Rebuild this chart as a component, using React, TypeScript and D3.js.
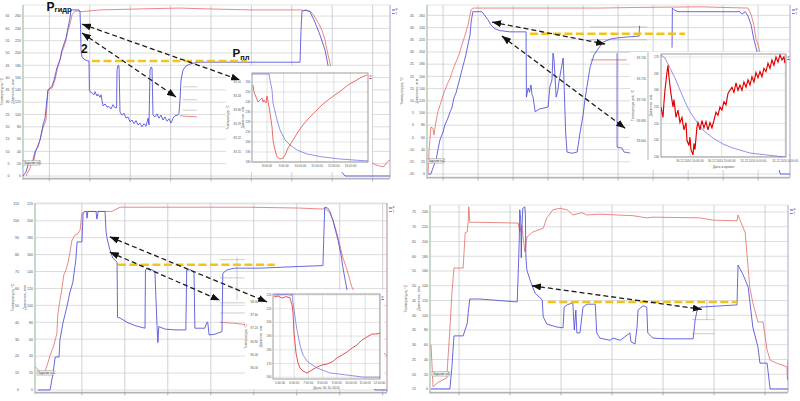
import React, { useEffect } from 'react';
import * as d3 from 'd3';

type Pt = [number, number];

// ================= PANEL 1 (top-left) : time [h], pressure [atm] =================
const p1Pressure: Pt[] = [[0,0],[0.75,6.5],[1.25,17.9],[2,21],[2.5,26],[3,39],[3.5,45.5],[4.25,58.5],[5,83],[5.5,94],[6.25,140],[7.25,146],[7.75,156],[8.5,176],[9.25,189],[9.75,205],[10.25,215],[10.75,224],[11.25,241],[11.75,257],[12,270],[14,270],[14.25,267],[14.4,238],[14.5,205],[14.75,193],[15.5,189],[16.25,187],[16.5,187],[16.6,140],[16.75,137],[17.25,135],[17.75,132],[18,137],[18.5,130],[18.75,133],[19.25,128],[19.5,132],[20,114],[20.5,117],[21,112],[21.5,113],[22,109],[22.5,116],[23,111],[23.4,111],[23.5,172],[23.75,180],[24,179],[24.25,104],[24.75,99],[25.25,102],[25.75,94],[26.25,96],[26.75,88],[27.25,91],[27.75,85],[28.25,90],[28.75,83],[29.25,86],[29.75,80],[30.25,85],[30.75,81],[31.25,94],[31.5,83],[31.75,172],[32,177],[32.25,176],[32.5,99],[33,96],[33.5,101],[34,94],[34.5,99],[35,91],[35.5,96],[36,89],[36.5,93],[37,86],[37.5,94],[38,98],[38.75,99],[39,102],[39.25,124],[39.5,156],[40,172],[40.75,179],[41.75,182],[43,184],[44.25,185],[56.75,185],[69.25,185],[69.5,237],[69.75,268],[70.75,270],[71.75,267],[73,250],[74.25,229],[75.5,205],[76.25,180],[77.25,124],[78,58.5],[79.25,10],[80.5,0],[91.75,0]];
const p1Temperature: Pt[] = [[0.75,0],[1.25,6.5],[1.75,13],[2.25,23],[2.75,26],[3.25,42],[3.75,47],[4.25,58.5],[5,78],[5.75,91],[6.25,140],[7.25,143],[8,156],[8.5,172],[9.25,189],[9.75,202],[10.25,210],[10.75,221],[11.25,237],[11.5,241],[12,254],[12.25,262],[13,268],[14,268],[14.5,267],[19.25,270],[31.75,272],[39.25,273],[44.25,272],[56.75,270],[69.25,270],[71.75,268],[72.5,263],[73.75,250],[74.75,237],[75.5,221],[76.25,197],[77,176],[78,150],[80,100],[82,60],[84.25,30],[86.75,23],[88.25,18],[89.25,16],[90.25,15],[91,23],[91.75,26]];
const p1TempSegments: Pt[][] = [[[39.25,98],[41,97],[43.5,96]]];
const p1GrayTraces: Pt[][] = [[[40,145],[43.5,145]],[[40,124],[43.5,124]],[[40,107],[43.5,107]]];
const p1BlueTraces: Pt[][] = [];
const p1Yellow: Pt[] = [[17.25,187],[56,187]];
const p1Arrows: Pt[][] = [[[14.75,247],[54.25,156]],[[14.75,232.5],[38.25,128.5]]];
const p1PressureTicks = d3.range(0, 261, 20);
const p1TempTicks = d3.range(0, 66, 5);
const p1TimeGrid = d3.range(6.6, 91, 10.1);

// ================= PANEL 2 (top-right) =================
const p2Pressure: Pt[] = [[0.3,0],[1.1,0],[1.7,10],[2.6,23],[3.1,39],[3.7,56],[4.6,69],[5.1,80],[6,92],[6.6,102],[7.1,108],[7.7,125],[8.3,133],[8.9,146],[9.4,157],[10,171],[10.6,184],[11.1,195],[11.7,212],[12.3,228],[12.6,249],[13.1,266],[15.7,266],[16.6,259],[17.4,253],[18.3,244],[19.4,238],[20.9,235],[23.7,233],[28,233],[28.3,233],[28.4,126],[28.9,141],[29.3,134],[29.7,146],[30,130],[30.3,126],[30.9,102],[32.3,107],[33.4,108],[34.6,110],[35.1,143],[35.7,154],[36,198],[36.3,187],[36.9,126],[37.4,138],[37.7,151],[38.3,171],[38.9,190],[39.1,159],[39.6,69],[40,36],[41.4,34],[42.9,36],[43.7,67],[44.6,97],[45.1,121],[46,154],[46.6,175],[47.7,195],[48.6,203],[50.3,216],[52.3,221],[54.3,223],[58,225],[60.6,226],[60.7,243],[61,NaN],[70,207],[70.1,272],[70.6,269],[71.7,266],[78,266],[89.4,266],[90,262],[90.9,266],[91.7,259],[92.6,244],[93.4,220],[94.3,200],[95.1,187],[97,120],[99,40],[100.9,0],[103.7,0]];
const p2Temperature: Pt[] = [[0.3,2],[0.6,39],[1.1,77],[1.7,75],[2,64],[2.3,77],[3.1,102],[4,118],[4.9,134],[5.7,146],[6.6,157],[7.4,171],[8.3,184],[9.1,195],[10,212],[10.9,228],[11.7,244],[12.6,269],[13.1,272],[20.9,272],[35,272],[49.4,272],[60,273],[78,274],[91.7,272],[92.6,261],[93.4,244],[94,220],[94.6,212],[95.1,200],[97,150],[99,90],[101,50],[103.7,30]];
const p2TempSegments: Pt[][] = [[[46.6,187],[57.1,187]]];
const p2GrayTraces: Pt[][] = [[[46.6,241],[62.9,241]],[[46.6,220],[62.9,220]],[[46.6,200],[62.9,200]]];
const p2BlueTraces: Pt[][] = [[[54.3,198],[54.3,44],[55.7,42.6],[56.3,36],[58,34.4]]];
const p2Yellow: Pt[] = [[29.4,230],[73.7,230]];
const p2Arrows: Pt[][] = [[[18.6,249],[50.9,213]],[[21.4,226],[56.6,75]]];
const p2PressureTicks = d3.range(0, 261, 20);
const p2TempTicks = d3.range(-20, 50, 5);
const p2TimeGrid = d3.range(4.6, 103, 10);

// ================= PANEL 3 (bottom-left) =================
const p3Pressure: Pt[] = [[0.7,0],[3.5,0],[4.2,20],[4.7,39],[5.6,39],[5.8,59],[6.5,79],[7.4,98],[8.1,115],[8.8,127],[9.5,154],[9.8,175],[10.9,175],[11.2,209],[11.6,211],[12,211],[12.1,203],[12.3,211],[14.2,211],[14.4,202],[14.7,211],[16.3,211],[16.5,189],[16.7,181],[17.4,166],[18.1,156],[19.1,151],[19.2,86],[19.8,85],[21.4,80],[23.3,76],[25.6,73],[25.7,142],[26.3,144],[27.2,142],[27.9,140],[28.4,75],[28.6,56],[28.8,75],[30.2,72],[32.6,71],[35.1,71],[35.3,142],[36.3,142],[37,138],[37.2,73],[39.5,73],[40,80],[40.2,80],[40.5,65],[41.9,66],[43.5,69],[43.7,138],[44.7,142],[46.5,144],[52.3,144],[61.6,146],[67,147],[67.4,216],[68.1,215],[68.6,211],[69.3,201],[70,187],[70.5,177],[71.2,160],[71.6,146],[72.6,118],[73.3,107],[74.4,83],[75.6,59],[76.7,35],[77.9,12],[79.1,0],[81.9,0]];
const p3Temperature: Pt[] = [[0.2,27],[1.2,21],[2.1,18],[2.6,26],[3,32],[3.5,41],[4.2,50],[4.7,59],[5.1,67],[5.3,89],[5.8,106],[6.3,121],[6.7,136],[7.2,142],[7.7,151],[8.1,162],[8.6,177],[9.3,183],[10,185],[10.5,189],[10.9,209],[11.6,211],[17.9,211],[18.6,213],[19.8,216],[26.7,216],[38.4,216],[50,216],[61.6,215],[66.3,214],[67.7,214],[68.6,209],[69.3,201],[70.2,186],[70.9,172],[71.6,157],[72.6,142],[73.7,122],[74.7,112],[76,95],[78,70],[80,50],[81.9,40]];
const p3TempSegments: Pt[][] = [[[43,80],[46,79],[49.5,77]]];
const p3GrayTraces: Pt[][] = [[[43,154],[48.8,154]],[[43,132.5],[48.8,132.5]],[[43,103],[48.8,103]],[[43,91],[48.8,91]],[[47,157.5],[47,106.5]]];
const p3BlueTraces: Pt[][] = [];
const p3Yellow: Pt[] = [[19.3,148],[55.8,148]];
const p3Arrows: Pt[][] = [[[17.4,181],[54,104]],[[17.4,163],[43,106]]];
const p3PressureTicks = d3.range(0, 221, 20);
const p3TempTicks = d3.range(0, 111, 10);
const p3TimeGrid = d3.range(10.9, 81, 10);

// ================= PANEL 4 (bottom-right) =================
const p4Pressure: Pt[] = [[0.2,0],[3.9,0],[4.3,30],[4.7,72],[6.5,72],[7.3,89],[7.5,104],[7.8,122],[9.8,122],[17.1,118],[17.3,157],[17.5,202],[17.6,243],[17.8,229],[17.9,178],[18,216],[18.2,245],[18.6,247],[18.7,236],[18.8,179],[19,161],[19.6,148],[20.6,130],[22,121],[22.2,98],[22.9,88],[24.9,84],[26.1,83],[26.3,111],[26.9,114],[28,117],[28.3,80],[28.6,107],[28.8,76],[29.4,76],[30,111],[30.8,115],[32.4,115],[32.7,76],[33.3,69],[35.3,66],[35.9,69],[37.3,66],[39.2,76],[39.4,64],[40.2,61],[40.6,84],[40.8,107],[41.8,113],[42.5,111],[42.7,76],[43.7,69],[46.5,68],[51.6,68],[52,94],[52.4,107],[52.9,111],[60.2,114],[60.4,168],[61.4,155],[62.4,138],[63.3,84],[64.3,57],[64.7,35],[66.1,35],[66.7,0],[70.2,0]];
const p4Temperature: Pt[] = [[0.2,60],[0.6,3],[1.4,8],[2.4,12],[3.3,15],[3.5,39],[3.9,80],[4.3,130],[4.7,164],[6.5,164],[6.9,212],[7.3,213],[7.5,229],[7.6,247],[7.8,226],[9.8,226],[17.3,225],[17.6,213],[18,222],[18.6,186],[19,206],[20.2,213],[22.2,218],[22.9,232],[24.1,243],[25.5,245],[26.9,243],[28,236],[29.8,239],[30.8,236],[33.3,237],[39.8,235],[42.5,232],[43.7,233],[52.9,232],[55.5,229],[60.2,228],[60.4,236],[60.8,229],[61.8,212],[62.7,138],[63.3,117],[64.3,91],[65.3,91],[66.1,53],[66.7,39],[68,35],[70,30],[70.1,12],[70.2,39]];
const p4TempSegments: Pt[][] = [];
const p4GrayTraces: Pt[][] = [[[51.4,94],[55.9,94]],[[51.4,75],[55.9,75]],[[54.3,121],[54.3,94]]];
const p4BlueTraces: Pt[][] = [];
const p4Yellow: Pt[] = [[23.1,118],[60.2,118]];
const p4Arrows: Pt[][] = [[[20,140],[53.3,108]]];
const p4PressureTicks = d3.range(0, 241, 20);
const p4TempTicks = d3.range(15, 80, 5);
const p4TimeGrid = d3.range(5.7, 70, 10);

// ================= INSET 1 (hours, atm / °C) =================
const i1Pressure: Pt[] = [[7.1,268],[8.12,268],[8.18,262],[8.3,252],[8.36,239],[8.6,222],[8.78,212],[9.08,202],[9.38,197],[9.8,192],[10.39,188],[11.35,185],[12.37,183],[14.05,181]];
const i1Temperature: Pt[] = [[7.16,83.485],[7.22,83.45],[7.34,83.425],[7.46,83.40],[7.58,83.41],[7.7,83.42],[7.76,83.40],[7.82,83.41],[7.94,83.395],[8.0,83.43],[8.12,83.375],[8.18,83.345],[8.3,83.275],[8.36,83.21],[8.48,83.16],[8.6,83.125],[8.78,83.115],[8.96,83.12],[9.08,83.135],[9.26,83.17],[9.56,83.21],[9.85,83.25],[10.15,83.285],[10.57,83.325],[10.87,83.35],[11.29,83.385],[11.65,83.41],[12.07,83.435],[12.49,83.46],[12.85,83.485],[13.27,83.505],[13.69,83.525],[13.99,83.535]];
const i1PressureTicks = d3.range(180, 261, 10);
const i1TempTicks = [83.15, 83.22, 83.29, 83.36, 83.43, 83.5];
const i1TimeTicks = [8, 9, 10, 11, 12, 13];
const i1TimeLabels = ['8:00:00', '9:00:00', '10:00:00', '11:00:00', '12:00:00', '13:00:00'];

// ================= INSET 2 =================
const i2Pressure: Pt[] = [[12.35,270.6],[12.85,269.7],[13.48,266.7],[14.11,263.7],[14.74,260.1],[15.37,256.5],[16,253.5],[16.88,250.4],[17.64,248],[18.9,245.6],[20.16,243.8],[21.42,242.6],[23.56,241.1],[25.7,240.5],[27.97,239.9]];
const i2Temperature: Pt[] = [[12.35,83.693],[12.6,83.683],[12.72,83.697],[12.85,83.709],[13.1,83.726],[13.23,83.733],[13.35,83.722],[13.6,83.706],[13.86,83.693],[13.98,83.7],[14.24,83.683],[14.49,83.69],[14.74,83.678],[14.99,83.683],[15.24,83.671],[15.5,83.678],[15.62,83.661],[15.87,83.656],[16,83.664],[16.13,83.652],[16.38,83.647],[16.5,83.658],[16.63,83.652],[16.88,83.674],[17.01,83.678],[17.26,83.671],[17.51,83.68],[17.76,83.673],[18.02,83.679],[18.27,83.671],[18.52,83.678],[18.77,83.673],[19.02,83.68],[19.28,83.688],[19.53,83.685],[19.78,83.693],[20.03,83.69],[20.28,83.698],[20.54,83.695],[20.79,83.706],[21.04,83.709],[21.29,83.712],[21.54,83.707],[21.8,83.716],[22.05,83.709],[22.3,83.714],[22.55,83.709],[22.8,83.717],[23.06,83.712],[23.31,83.719],[23.56,83.714],[23.81,83.722],[24.06,83.717],[24.32,83.726],[24.57,83.721],[24.82,83.727],[25.07,83.722],[25.32,83.73],[25.58,83.727],[25.83,83.735],[26.08,83.73],[26.33,83.738],[26.58,83.733],[26.84,83.741],[27.09,83.736],[27.34,83.743],[27.59,83.738],[27.84,83.741],[27.97,83.735]];
const i2PressureTicks = d3.range(240, 271, 5);
const i2TempTicks = [83.66, 83.68, 83.7, 83.72, 83.74];
const i2TimeTicks = [16, 20, 24, 28];
const i2TimeLabels = ['30.12.2010 16:00:00', '30.12.2010 20:00:00', '31.12.2010 0:00:00', '31.12.2010 4:00:00'];

// ================= INSET 3 =================
const i3Pressure: Pt[] = [[4.58,220],[5.5,220.3],[5.8,219.8],[5.85,221.5],[5.88,218],[5.92,214.2],[6.06,203.9],[6.2,194.5],[6.41,183.5],[6.62,176.2],[6.97,171.1],[7.61,166.7],[8.52,163.1],[9.72,161.6],[10.85,160.1],[12.04,160.1]];
const i3Temperature: Pt[] = [[4.58,88.14],[4.86,88.17],[5.14,88.11],[5.42,88.15],[5.7,88.12],[5.85,87.9],[5.92,87.66],[5.99,87.06],[6.13,86.46],[6.27,86.16],[6.41,86.01],[6.62,85.92],[6.9,85.86],[7.25,85.95],[7.61,86.04],[7.96,86.1],[8.31,86.13],[8.66,86.19],[9.01,86.31],[9.37,86.4],[9.72,86.49],[10.07,86.61],[10.42,86.7],[10.77,86.85],[11.13,86.94],[11.48,87.03],[11.83,87.03],[12.04,87.06]];
const i3PressureTicks = d3.range(160, 221, 10);
const i3TempTicks = [86.0, 86.4, 86.8, 87.2, 87.6, 88.0];
const i3TimeTicks = [5, 6, 7, 8, 9, 10, 11, 12];
const i3TimeLabels = ['5:00:00', '6:00:00', '7:00:00', '8:00:00', '9:00:00', '10:00:00', '11:00:00', '12:00:00'];

const FONT = "'Liberation Sans', Arial, sans-serif";
const BLUE = '#4b4bdc';
const RED = '#e46a66';

interface MainCfg {
  id: string;
  x0: number; x1: number; y0: number; y1: number;
  xDomain: [number, number]; yDomain: [number, number];
  timeGrid: number[]; pressureTicks: number[]; tempTicks: number[];
  pressure: Pt[]; temperature: Pt[]; tempSegments: Pt[][]; grayTraces: Pt[][]; blueTraces: Pt[][];
  yellow: Pt[]; arrows: Pt[][];
  title1X: number; outerX: number; title2X: number; innerX: number;
  task: { x: number; y: number };
  rightColor: string;
}

interface InsetCfg {
  id: string;
  box: { x: number; y: number; w: number; h: number };
  x0: number; x1: number; y0: number; y1: number;
  xDomain: [number, number]; pDomain: [number, number]; tDomain: [number, number];
  timeTicks: number[]; timeLabels: string[]; pressureTicks: number[]; tempTicks: number[]; tempDigits: number;
  pressure: Pt[]; temperature: Pt[];
  title1X: number; outerX: number; title2X: number; innerX: number;
  tempAxisX?: number;
  xTitle?: string; xTitleY?: number;
  labelY: number;
  redColor: string; redWidth: number;
  tempTitle: string;
}

function MainChart({ c, children, labels }: { c: MainCfg; children?: React.ReactNode; labels?: React.ReactNode }) {
  const x = d3.scaleLinear().domain(c.xDomain).range([c.x0, c.x1]);
  const y = d3.scaleLinear().domain(c.yDomain).range([c.y1, c.y0]);
  const line = d3.line<Pt>().defined(d => Number.isFinite(d[1])).x(d => x(d[0])).y(d => y(d[1]));
  const clipId = `clip-${c.id}`;
  const midY = (c.y0 + c.y1) / 2;
  return (
    <g>
      <defs>
        <clipPath id={clipId}><rect x={c.x0} y={c.y0} width={c.x1 - c.x0} height={c.y1 - c.y0} /></clipPath>
      </defs>
      <rect x={c.x0} y={c.y0} width={c.x1 - c.x0} height={c.y1 - c.y0} fill="#fff" stroke="#d6d6d6" strokeWidth={0.7} />
      {c.pressureTicks.map(v => (
        <line key={'h' + v} x1={c.x0} x2={c.x1} y1={y(v)} y2={y(v)} stroke="#d8d8d8" strokeWidth={0.9} />
      ))}
      {c.timeGrid.map((t, i) => (
        <line key={'v' + i} x1={x(t)} x2={x(t)} y1={c.y0} y2={c.y1} stroke="#c8ccd6" strokeWidth={0.9} />
      ))}
      <line x1={c.x0} x2={c.x0} y1={c.y0} y2={c.y1 + 2} stroke="#a6c3a6" strokeWidth={1.1} />
      <line x1={c.x1} x2={c.x1} y1={c.y0} y2={c.y1} stroke={c.rightColor} strokeWidth={0.9} />
      <line x1={c.x0} x2={c.x1} y1={c.y1 + 0.8} y2={c.y1 + 0.8} stroke="#b4b4b4" strokeWidth={1.6} />
      {c.timeGrid.map((t, i) => (
        <line key={'tk' + i} x1={x(t)} x2={x(t)} y1={c.y1} y2={c.y1 + 3.5} stroke="#999" strokeWidth={0.7} />
      ))}
      {c.pressureTicks.map(v => (
        <text key={'pl' + v} x={c.innerX} y={y(v) + 1.3} fontSize={3.6} textAnchor="end" fill="#555">{v}</text>
      ))}
      {c.tempTicks.map((tv, i) => (
        <text key={'tl' + i} x={c.outerX} y={y(c.pressureTicks[i]) + 1.3} fontSize={3.6} textAnchor="end" fill="#555">{tv}</text>
      ))}
      <text transform={`translate(${c.title1X},${midY}) rotate(-90)`} fontSize={3.6} textAnchor="middle" fill="#555">Температура, °С</text>
      <text transform={`translate(${c.title2X},${midY}) rotate(-90)`} fontSize={3.6} textAnchor="middle" fill="#555">Давление, атм</text>
      <g clipPath={`url(#${clipId})`}>
        {c.grayTraces.map((tr, i) => <path key={'g' + i} d={line(tr) || ''} fill="none" stroke="#a9a9a9" strokeWidth={0.6} />)}
        <path d={line(c.temperature) || ''} fill="none" stroke={RED} strokeWidth={0.8} />
        {c.tempSegments.map((tr, i) => <path key={'r' + i} d={line(tr) || ''} fill="none" stroke={RED} strokeWidth={0.8} />)}
        {c.blueTraces.map((tr, i) => <path key={'b' + i} d={line(tr) || ''} fill="none" stroke={BLUE} strokeWidth={0.8} />)}
        <path d={line(c.pressure) || ''} fill="none" stroke={BLUE} strokeWidth={0.85} />
      </g>
      {/* legend */}
      <line x1={c.x1 + 2} x2={c.x1 + 5} y1={c.y0 + 5} y2={c.y0 + 5} stroke={BLUE} strokeWidth={1} />
      <text x={c.x1 + 5.5} y={c.y0 + 6.2} fontSize={3} fill="#555">P</text>
      <line x1={c.x1 + 2} x2={c.x1 + 5} y1={c.y0 + 8.5} y2={c.y0 + 8.5} stroke={RED} strokeWidth={1} />
      <text x={c.x1 + 5.5} y={c.y0 + 9.7} fontSize={3} fill="#555">T</text>
      {/* task label */}
      <rect x={c.task.x} y={c.task.y} width={17} height={4.6} fill="#ececec" stroke="#8c8c8c" strokeWidth={0.4} />
      <text x={c.task.x + 1} y={c.task.y + 3.4} fontSize={2.9} fill="#444">Задание №С</text>
      {children}
      <path d={line(c.yellow) || ''} fill="none" stroke="#f2c318" strokeWidth={2.5} strokeDasharray="8,3.5" />
      {c.arrows.map((a, i) => (
        <path key={'a' + i} d={line(a) || ''} fill="none" stroke="#1c1c1c" strokeWidth={1.3} strokeDasharray="5,3"
          markerStart="url(#ah)" markerEnd="url(#ah)" />
      ))}
      {labels}
    </g>
  );
}

function Inset({ c }: { c: InsetCfg }) {
  const x = d3.scaleLinear().domain(c.xDomain).range([c.x0, c.x1]);
  const yp = d3.scaleLinear().domain(c.pDomain).range([c.y1, c.y0]);
  const yt = d3.scaleLinear().domain(c.tDomain).range([c.y1, c.y0]);
  const lineP = d3.line<Pt>().x(d => x(d[0])).y(d => yp(d[1]));
  const lineT = d3.line<Pt>().x(d => x(d[0])).y(d => yt(d[1]));
  const clipId = `iclip-${c.id}`;
  const midY = (c.y0 + c.y1) / 2;
  return (
    <g>
      <defs>
        <clipPath id={clipId}><rect x={c.x0} y={c.y0} width={c.x1 - c.x0} height={c.y1 - c.y0} /></clipPath>
      </defs>
      <rect x={c.box.x} y={c.box.y} width={c.box.w} height={c.box.h} fill="#fff" />
      <rect x={c.x0} y={c.y0} width={c.x1 - c.x0} height={c.y1 - c.y0} fill="#fff" />
      {c.pressureTicks.map(v => (
        <line key={'h' + v} x1={c.x0} x2={c.x1} y1={yp(v)} y2={yp(v)} stroke="#d9d9d9" strokeWidth={0.7} />
      ))}
      {c.timeTicks.map(t => (
        <line key={'v' + t} x1={x(t)} x2={x(t)} y1={c.y0} y2={c.y1} stroke="#d2d2d2" strokeWidth={0.7} />
      ))}
      <rect x={c.x0} y={c.y0} width={c.x1 - c.x0} height={c.y1 - c.y0} fill="none" stroke="#9b9b9b" strokeWidth={1} />
      {c.tempAxisX !== undefined && (
        <line x1={c.tempAxisX} x2={c.tempAxisX} y1={c.y0 - 2} y2={c.y1 + 3} stroke="#a0a0a0" strokeWidth={0.8} />
      )}
      <g clipPath={`url(#${clipId})`}>
        <path d={lineP(c.pressure) || ''} fill="none" stroke="#6464e2" strokeWidth={0.7} />
        <path d={lineT(c.temperature) || ''} fill="none" stroke={c.redColor} strokeWidth={c.redWidth} />
      </g>
      {c.pressureTicks.map(v => (
        <text key={'pl' + v} x={c.innerX} y={yp(v) + 1.1} fontSize={3} textAnchor="end" fill="#555">{v}</text>
      ))}
      {c.tempTicks.map(v => (
        <text key={'tl' + v} x={c.outerX} y={yt(v) + 1.1} fontSize={3} textAnchor="end" fill="#555">{v.toFixed(c.tempDigits)}</text>
      ))}
      {c.timeTicks.map((t, i) => (
        <text key={'xl' + t} x={x(t)} y={c.labelY} fontSize={3} textAnchor="middle" fill="#555">{c.timeLabels[i]}</text>
      ))}
      {c.xTitle && (
        <text x={(c.x0 + c.x1) / 2} y={c.xTitleY} fontSize={3.4} textAnchor="middle" fill="#555">{c.xTitle}</text>
      )}
      <text transform={`translate(${c.title1X},${midY}) rotate(-90)`} fontSize={3.2} textAnchor="middle" fill="#555">{c.tempTitle}</text>
      <text transform={`translate(${c.title2X},${midY}) rotate(-90)`} fontSize={3.2} textAnchor="middle" fill="#555">Давление, атм</text>
      <line x1={c.x1 + 1.5} x2={c.x1 + 3.5} y1={c.y0 + 3} y2={c.y0 + 3} stroke={BLUE} strokeWidth={0.9} />
      <line x1={c.x1 + 1.5} x2={c.x1 + 3.5} y1={c.y0 + 5.5} y2={c.y0 + 5.5} stroke="#e00000" strokeWidth={0.9} />
    </g>
  );
}

const panel1: MainCfg = {
  id: 'p1', x0: 23, x1: 390, y0: 5, y1: 178,
  xDomain: [0, 91.75], yDomain: [-3.25, 278],
  timeGrid: p1TimeGrid, pressureTicks: p1PressureTicks, tempTicks: p1TempTicks,
  pressure: p1Pressure, temperature: p1Temperature, tempSegments: p1TempSegments, grayTraces: p1GrayTraces, blueTraces: p1BlueTraces,
  yellow: p1Yellow, arrows: p1Arrows,
  title1X: 3, outerX: 9.5, title2X: 13.5, innerX: 21,
  task: { x: 23, y: 160.5 }, rightColor: '#b9a9dc',
};
const panel2: MainCfg = {
  id: 'p2', x0: 427, x1: 790, y0: 5, y1: 177,
  xDomain: [0, 103.7], yDomain: [-4.9, 277],
  timeGrid: p2TimeGrid, pressureTicks: p2PressureTicks, tempTicks: p2TempTicks,
  pressure: p2Pressure, temperature: p2Temperature, tempSegments: p2TempSegments, grayTraces: p2GrayTraces, blueTraces: p2BlueTraces,
  yellow: p2Yellow, arrows: p2Arrows,
  title1X: 403, outerX: 414, title2X: 418, innerX: 425,
  task: { x: 427, y: 158.5 }, rightColor: '#b9a9dc',
};
const panel3: MainCfg = {
  id: 'p3', x0: 35, x1: 387, y0: 203, y1: 392,
  xDomain: [0, 81.9], yDomain: [-2.4, 221],
  timeGrid: p3TimeGrid, pressureTicks: p3PressureTicks, tempTicks: p3TempTicks,
  pressure: p3Pressure, temperature: p3Temperature, tempSegments: p3TempSegments, grayTraces: p3GrayTraces, blueTraces: p3BlueTraces,
  yellow: p3Yellow, arrows: p3Arrows,
  title1X: 14, outerX: 19, title2X: 26, innerX: 33,
  task: { x: 37, y: 370.5 }, rightColor: '#c9889c',
};
const panel4: MainCfg = {
  id: 'p4', x0: 430, x1: 788, y0: 205, y1: 392,
  xDomain: [0, 70.2], yDomain: [-4.1, 249.5],
  timeGrid: p4TimeGrid, pressureTicks: p4PressureTicks, tempTicks: p4TempTicks,
  pressure: p4Pressure, temperature: p4Temperature, tempSegments: p4TempSegments, grayTraces: p4GrayTraces, blueTraces: p4BlueTraces,
  yellow: p4Yellow, arrows: p4Arrows,
  title1X: 407, outerX: 416, title2X: 420, innerX: 428,
  task: { x: 432, y: 371.5 }, rightColor: '#b9a9dc',
};

const inset1: InsetCfg = {
  id: 'i1', box: { x: 226, y: 66, w: 146, h: 106 },
  x0: 252, x1: 368, y0: 73, y1: 162,
  xDomain: [7.1, 14.05], pDomain: [180, 269], tDomain: [83.10, 83.545],
  timeTicks: i1TimeTicks, timeLabels: i1TimeLabels, pressureTicks: i1PressureTicks, tempTicks: i1TempTicks, tempDigits: 2,
  pressure: i1Pressure, temperature: i1Temperature,
  title1X: 229, outerX: 241, title2X: 244, innerX: 250.5,
  labelY: 167, redColor: '#e24848', redWidth: 0.8, tempTitle: 'Температура, °С',
};
const inset2: InsetCfg = {
  id: 'i2', box: { x: 630, y: 52, w: 159, h: 118 },
  x0: 661, x1: 786, y0: 54, y1: 157,
  xDomain: [12.35, 28.1], pDomain: [239.9, 270.9], tDomain: [83.645, 83.7438],
  timeTicks: i2TimeTicks, timeLabels: i2TimeLabels, pressureTicks: i2PressureTicks, tempTicks: i2TempTicks, tempDigits: 3,
  pressure: i2Pressure, temperature: i2Temperature,
  title1X: 633.5, outerX: 646, title2X: 652, innerX: 659, tempAxisX: 648,
  labelY: 161.5, xTitle: 'Дата и время', xTitleY: 167.5,
  redColor: '#e00000', redWidth: 1.15, tempTitle: 'Температура раб, °С',
};
const inset3: InsetCfg = {
  id: 'i3', box: { x: 245, y: 290, w: 139, h: 99 },
  x0: 273, x1: 380, y0: 294, y1: 379,
  xDomain: [4.51, 12.04], pDomain: [158.7, 220.7], tDomain: [85.68, 88.23],
  timeTicks: i3TimeTicks, timeLabels: i3TimeLabels, pressureTicks: i3PressureTicks, tempTicks: i3TempTicks, tempDigits: 2,
  pressure: i3Pressure, temperature: i3Temperature,
  title1X: 247, outerX: 258, title2X: 262, innerX: 271.5,
  labelY: 383.5, xTitle: 'Дата: 05.10.2010', xTitleY: 388.5,
  redColor: '#e24040', redWidth: 0.9, tempTitle: 'Температура, °С',
};

export default function App() {
  useEffect(() => { document.body.style.margin = '0'; }, []);
  return (
    <svg width={800} height={401} viewBox="0 0 800 401" fontFamily={FONT}
      style={{ position: 'fixed', left: 0, top: 0, display: 'block', background: '#fff' }}>
      <defs>
        <marker id="ah" viewBox="0 0 10 10" refX={10} refY={5} markerWidth={9} markerHeight={7}
          markerUnits="userSpaceOnUse" orient="auto-start-reverse" preserveAspectRatio="none">
          <path d="M0,0L10,5L0,10z" fill="#111" />
        </marker>
      </defs>
      <rect x={0} y={0} width={800} height={401} fill="#fff" />
      <MainChart c={panel1} labels={
        <g fontWeight="bold" fill="#111">
          <text x={46.5} y={10.5} fontSize={12}>P<tspan fontSize={7.5} dy={1.5}>гидр</tspan></text>
          <text x={81} y={53} fontSize={12}>2</text>
          <text x={232.5} y={57} fontSize={11.5}>P<tspan fontSize={7.5} dy={2.5}>пл</tspan></text>
        </g>
      }>
        <Inset c={inset1} />
      </MainChart>
      <MainChart c={panel2}>
        <Inset c={inset2} />
      </MainChart>
      <MainChart c={panel3}>
        <Inset c={inset3} />
      </MainChart>
      <MainChart c={panel4} />
    </svg>
  );
}
